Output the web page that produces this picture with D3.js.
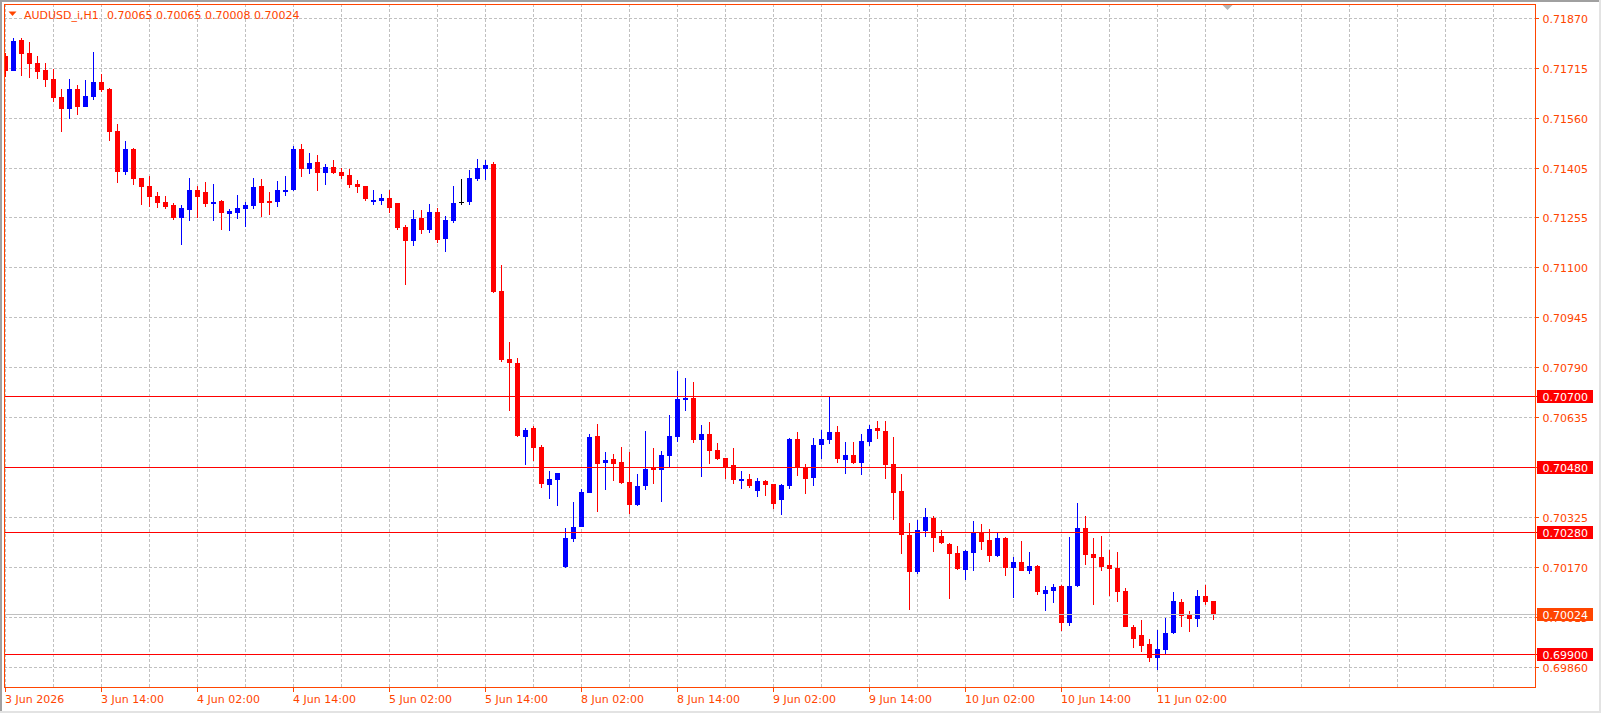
<!DOCTYPE html>
<html>
<head>
<meta charset="utf-8">
<script src="https://cdn.jsdelivr.net/npm/d3@7"></script>
<style>
  html, body { margin: 0; padding: 0; background: #FFFFFF; }
  svg { display: block; }
  text { font-family: "DejaVu Sans", sans-serif; font-size: 11px; }
</style>
</head>
<body>
<div id="chart"></div>
<script>
// AUDUSD_i H1 bars (oldest first)
var opens = [
    0.71753, 0.71708, 0.71803, 0.71763, 0.71732, 0.71710, 0.71682, 0.71626, 0.71590, 0.71651,
    0.71596, 0.71627, 0.71673, 0.71651, 0.71521, 0.71395, 0.71465, 0.71375, 0.71351, 0.71320,
    0.71301, 0.71292, 0.71250, 0.71277, 0.71338, 0.71332, 0.71296, 0.71304, 0.71265, 0.71268,
    0.71280, 0.71290, 0.71351, 0.71305, 0.71302, 0.71333, 0.71338, 0.71465, 0.71404, 0.71425,
    0.71392, 0.71410, 0.71394, 0.71385, 0.71357, 0.71351, 0.71302, 0.71305, 0.71314, 0.71298,
    0.71224, 0.71181, 0.71252, 0.71215, 0.71270, 0.71187, 0.71243, 0.71301, 0.71302, 0.71372,
    0.71404, 0.71419, 0.71025, 0.70815, 0.70803, 0.70573, 0.70601, 0.70542, 0.70425, 0.70440,
    0.70171, 0.70258, 0.70295, 0.70400, 0.70576, 0.70493, 0.70505, 0.70496, 0.70434, 0.70363,
    0.70422, 0.70477, 0.70471, 0.70515, 0.70573, 0.70688, 0.70694, 0.70564, 0.70583, 0.70533,
    0.70508, 0.70487, 0.70437, 0.70443, 0.70406, 0.70437, 0.70428, 0.70378, 0.70422, 0.70567,
    0.70480, 0.70446, 0.70549, 0.70564, 0.70589, 0.70502, 0.70518, 0.70493, 0.70558, 0.70601,
    0.70592, 0.70490, 0.70406, 0.70270, 0.70155, 0.70282, 0.70323, 0.70267, 0.70242, 0.70214,
    0.70162, 0.70214, 0.70279, 0.70254, 0.70205, 0.70261, 0.70168, 0.70186, 0.70158, 0.70174,
    0.70087, 0.70096, 0.70112, 0.69997, 0.70112, 0.70292, 0.70211, 0.70202, 0.70177, 0.70168,
    0.70096, 0.69985, 0.69960, 0.69932, 0.69889, 0.69914, 0.69966, 0.70062, 0.70025, 0.70010,
    0.70081, 0.70065
];
var highs = [
    0.71763, 0.71809, 0.71809, 0.71797, 0.71753, 0.71732, 0.71713, 0.71651, 0.71682, 0.71664,
    0.71679, 0.71766, 0.71698, 0.71654, 0.71543, 0.71490, 0.71468, 0.71376, 0.71382, 0.71332,
    0.71320, 0.71298, 0.71292, 0.71375, 0.71351, 0.71363, 0.71357, 0.71307, 0.71279, 0.71323,
    0.71301, 0.71375, 0.71372, 0.71332, 0.71366, 0.71382, 0.71475, 0.71481, 0.71453, 0.71447,
    0.71419, 0.71431, 0.71406, 0.71403, 0.71369, 0.71352, 0.71338, 0.71326, 0.71338, 0.71299,
    0.71230, 0.71276, 0.71276, 0.71295, 0.71283, 0.71258, 0.71351, 0.71372, 0.71400, 0.71434,
    0.71431, 0.71425, 0.71106, 0.70868, 0.70818, 0.70601, 0.70607, 0.70549, 0.70468, 0.70463,
    0.70292, 0.70372, 0.70412, 0.70583, 0.70614, 0.70527, 0.70521, 0.70542, 0.70527, 0.70459,
    0.70592, 0.70539, 0.70530, 0.70642, 0.70778, 0.70756, 0.70744, 0.70611, 0.70620, 0.70555,
    0.70509, 0.70539, 0.70468, 0.70459, 0.70446, 0.70440, 0.70429, 0.70428, 0.70570, 0.70589,
    0.70490, 0.70570, 0.70595, 0.70700, 0.70607, 0.70558, 0.70558, 0.70583, 0.70611, 0.70623,
    0.70623, 0.70573, 0.70459, 0.70307, 0.70316, 0.70354, 0.70329, 0.70285, 0.70245, 0.70236,
    0.70223, 0.70313, 0.70304, 0.70288, 0.70279, 0.70264, 0.70202, 0.70251, 0.70217, 0.70177,
    0.70112, 0.70118, 0.70115, 0.70264, 0.70369, 0.70329, 0.70261, 0.70267, 0.70223, 0.70217,
    0.70106, 0.69991, 0.70007, 0.69948, 0.69976, 0.70013, 0.70093, 0.70072, 0.70035, 0.70100,
    0.70115, 0.70065
];
var lows = [
    0.71689, 0.71707, 0.71691, 0.71686, 0.71683, 0.71658, 0.71611, 0.71519, 0.71559, 0.71572,
    0.71595, 0.71618, 0.71643, 0.71491, 0.71361, 0.71386, 0.71355, 0.71293, 0.71287, 0.71284,
    0.71280, 0.71246, 0.71169, 0.71243, 0.71253, 0.71287, 0.71243, 0.71215, 0.71212, 0.71249,
    0.71225, 0.71280, 0.71256, 0.71262, 0.71287, 0.71321, 0.71335, 0.71380, 0.71389, 0.71336,
    0.71355, 0.71389, 0.71373, 0.71345, 0.71330, 0.71305, 0.71293, 0.71293, 0.71268, 0.71214,
    0.71044, 0.71166, 0.71203, 0.71206, 0.71175, 0.71147, 0.71237, 0.71293, 0.71293, 0.71366,
    0.71369, 0.71018, 0.70806, 0.70654, 0.70573, 0.70487, 0.70499, 0.70415, 0.70381, 0.70360,
    0.70168, 0.70248, 0.70294, 0.70399, 0.70341, 0.70409, 0.70437, 0.70428, 0.70335, 0.70360,
    0.70409, 0.70428, 0.70372, 0.70480, 0.70558, 0.70654, 0.70555, 0.70450, 0.70490, 0.70502,
    0.70443, 0.70428, 0.70412, 0.70415, 0.70388, 0.70391, 0.70350, 0.70332, 0.70412, 0.70453,
    0.70397, 0.70422, 0.70505, 0.70552, 0.70493, 0.70459, 0.70490, 0.70456, 0.70545, 0.70567,
    0.70443, 0.70316, 0.70211, 0.70038, 0.70149, 0.70264, 0.70217, 0.70242, 0.70072, 0.70162,
    0.70131, 0.70158, 0.70223, 0.70186, 0.70202, 0.70143, 0.70075, 0.70157, 0.70149, 0.70084,
    0.70035, 0.70059, 0.69973, 0.69988, 0.70109, 0.70177, 0.70053, 0.70158, 0.70081, 0.70062,
    0.69984, 0.69920, 0.69908, 0.69877, 0.69852, 0.69898, 0.69963, 0.69985, 0.69969, 0.69985,
    0.70053, 0.70008
];
var closes = [
    0.71708, 0.71800, 0.71760, 0.71729, 0.71705, 0.71680, 0.71624, 0.71590, 0.71651, 0.71596,
    0.71629, 0.71673, 0.71649, 0.71519, 0.71395, 0.71465, 0.71373, 0.71349, 0.71318, 0.71299,
    0.71287, 0.71253, 0.71283, 0.71338, 0.71318, 0.71296, 0.71301, 0.71268, 0.71273, 0.71283,
    0.71292, 0.71348, 0.71299, 0.71299, 0.71338, 0.71338, 0.71465, 0.71404, 0.71422, 0.71392,
    0.71410, 0.71392, 0.71383, 0.71355, 0.71349, 0.71311, 0.71308, 0.71314, 0.71284, 0.71221,
    0.71181, 0.71249, 0.71215, 0.71270, 0.71184, 0.71245, 0.71298, 0.71301, 0.71375, 0.71406,
    0.71416, 0.71021, 0.70812, 0.70803, 0.70576, 0.70595, 0.70539, 0.70428, 0.70443, 0.70462,
    0.70261, 0.70295, 0.70403, 0.70573, 0.70490, 0.70502, 0.70490, 0.70431, 0.70363, 0.70422,
    0.70474, 0.70471, 0.70518, 0.70576, 0.70691, 0.70694, 0.70564, 0.70583, 0.70530, 0.70505,
    0.70480, 0.70440, 0.70443, 0.70422, 0.70437, 0.70425, 0.70366, 0.70425, 0.70567, 0.70477,
    0.70443, 0.70549, 0.70567, 0.70589, 0.70505, 0.70518, 0.70493, 0.70561, 0.70598, 0.70592,
    0.70487, 0.70400, 0.70270, 0.70155, 0.70285, 0.70326, 0.70261, 0.70245, 0.70211, 0.70165,
    0.70220, 0.70279, 0.70248, 0.70205, 0.70261, 0.70168, 0.70186, 0.70158, 0.70174, 0.70093,
    0.70100, 0.70109, 0.69997, 0.70112, 0.70292, 0.70208, 0.70199, 0.70171, 0.70165, 0.70093,
    0.69985, 0.69948, 0.69926, 0.69889, 0.69917, 0.69966, 0.70066, 0.70019, 0.70010, 0.70081,
    0.70062, 0.70024
];

// time axis: bar index of each label and its text
var timeTickBars = [0, 12, 24, 36, 48, 60, 72, 84, 96, 108, 120, 132, 144];
var timeTickLabels = [
    "3 Jun 2026", "3 Jun 14:00", "4 Jun 02:00", "4 Jun 14:00", "5 Jun 02:00",
    "5 Jun 14:00", "8 Jun 02:00", "8 Jun 14:00", "9 Jun 02:00", "9 Jun 14:00",
    "10 Jun 02:00", "10 Jun 14:00", "11 Jun 02:00"
];

// price axis labels
var priceTicks = [
    0.71870, 0.71715, 0.71560, 0.71405, 0.71255, 0.71100, 0.70945,
    0.70790, 0.70635, 0.70480, 0.70325, 0.70170, 0.70015, 0.69860
];

// horizontal lines drawn on the chart
var levelPrices = [0.70700, 0.70480, 0.70280, 0.69900];
var bidPrice = 0.70024;

var symbolName = "AUDUSD_i,H1";

var width = 1601,
    height = 713,
    frameLeft = 4,
    frameTop = 4,
    frameRight = 1535,
    frameBottom = 687,
    barStep = 8;

var orangeRed = "#FF4500",
    bullColor = "#0000FF",
    bearColor = "#FF0000",
    dojiColor = "#000000",
    gridColor = "#C0C0C0",
    levelColor = "#FF0000";

var svg = d3.select("#chart")
    .append("svg")
    .attr("width", width)
    .attr("height", height);

svg.append("rect")
    .attr("width", width)
    .attr("height", height)
    .style("fill", "#FFFFFF");

// window edges
svg.append("rect").attr("x", 0).attr("y", 0).attr("width", width).attr("height", 2).style("fill", "#A0A0A0");
svg.append("rect").attr("x", 0).attr("y", 0).attr("width", 2).attr("height", height).style("fill", "#A0A0A0");
svg.append("rect").attr("x", 0).attr("y", height - 2).attr("width", width).attr("height", 2).style("fill", "#E3E3E3");
svg.append("rect").attr("x", width - 2).attr("y", 0).attr("width", 2).attr("height", height).style("fill", "#E3E3E3");

var nBars = opens.length;

var x = d3.scaleLinear()
    .domain([0, nBars - 1])
    .range([frameLeft + 1, frameLeft + 1 + barStep * (nBars - 1)]);

var y = d3.scaleLinear()
    .domain([0.69860, 0.71870])
    .range([667.3, 18.3]);

function py(v) { return Math.round(y(v)); }

var defs = svg.append("defs");
defs.append("clipPath")
    .attr("id", "plotClip")
    .append("rect")
    .attr("x", frameLeft + 1)
    .attr("y", frameTop + 1)
    .attr("width", frameRight - frameLeft - 1)
    .attr("height", frameBottom - frameTop - 1);

var plot = svg.append("g").attr("clip-path", "url(#plotClip)");

// vertical grid, every 6 bars, carried on past the last bar
var gridBars = d3.range(0, Math.floor((frameRight - frameLeft) / barStep), 6);
plot.selectAll(".vgrid")
    .data(gridBars)
    .enter().append("line")
    .attr("x1", function (d) { return x(d) + 0.5; })
    .attr("x2", function (d) { return x(d) + 0.5; })
    .attr("y1", frameTop)
    .attr("y2", frameBottom)
    .style("stroke", gridColor)
    .style("stroke-width", 1)
    .style("stroke-dasharray", "3,2");

// horizontal grid
plot.selectAll(".hgrid")
    .data(priceTicks)
    .enter().append("line")
    .attr("x1", frameLeft)
    .attr("x2", frameRight)
    .attr("y1", function (d) { return py(d) + 0.5; })
    .attr("y2", function (d) { return py(d) + 0.5; })
    .style("stroke", gridColor)
    .style("stroke-width", 1)
    .style("stroke-dasharray", "3,2");

// bid line and level lines run out to the price labels
svg.append("line")
    .attr("x1", frameLeft)
    .attr("x2", 1537)
    .attr("y1", py(bidPrice) + 0.5)
    .attr("y2", py(bidPrice) + 0.5)
    .style("stroke", "#C0C0C0")
    .style("stroke-width", 1);

svg.selectAll(".level")
    .data(levelPrices)
    .enter().append("line")
    .attr("x1", frameLeft)
    .attr("x2", 1537)
    .attr("y1", function (d) { return py(d) + 0.5; })
    .attr("y2", function (d) { return py(d) + 0.5; })
    .style("stroke", levelColor)
    .style("stroke-width", 1);

// candles
var bars = d3.range(nBars);

function barColor(i) {
    if (opens[i] === closes[i]) return dojiColor;
    return closes[i] > opens[i] ? bullColor : bearColor;
}

plot.selectAll(".wick")
    .data(bars)
    .enter().append("rect")
    .attr("x", function (i) { return x(i); })
    .attr("y", function (i) { return py(highs[i]); })
    .attr("width", 1)
    .attr("height", function (i) { return Math.max(1, py(lows[i]) - py(highs[i])); })
    .style("shape-rendering", "crispEdges")
    .style("fill", barColor);

plot.selectAll(".body")
    .data(bars)
    .enter().append("rect")
    .attr("x", function (i) { return x(i) - 2; })
    .attr("y", function (i) { return py(Math.max(opens[i], closes[i])); })
    .attr("width", 5)
    .attr("height", function (i) {
        return Math.max(1, py(Math.min(opens[i], closes[i])) - py(Math.max(opens[i], closes[i])));
    })
    .style("shape-rendering", "crispEdges")
    .style("fill", barColor);

// frame
svg.append("rect")
    .attr("x", frameLeft + 0.5)
    .attr("y", frameTop + 0.5)
    .attr("width", frameRight - frameLeft)
    .attr("height", frameBottom - frameTop)
    .style("fill", "none")
    .style("stroke", orangeRed)
    .style("stroke-width", 1);

// chart shift marker
var shiftX = x(nBars - 1) + 14.5;
svg.append("path")
    .attr("d", "M" + (shiftX - 5) + "," + (frameTop + 1) + "L" + (shiftX + 5) + "," + (frameTop + 1) + "L" + shiftX + "," + (frameTop + 6) + "Z")
    .style("fill", "#B4B4B4");

// price axis
svg.selectAll(".ytick")
    .data(priceTicks)
    .enter().append("line")
    .attr("x1", frameRight)
    .attr("x2", frameRight + 4)
    .attr("y1", function (d) { return py(d) + 0.5; })
    .attr("y2", function (d) { return py(d) + 0.5; })
    .style("stroke", orangeRed);

svg.selectAll(".ylabel")
    .data(priceTicks)
    .enter().append("text")
    .attr("x", 1542.5)
    .attr("y", function (d) { return py(d) + 4.5; })
    .style("fill", orangeRed)
    .text(function (d) { return d.toFixed(5); });

// boxes for the level lines and the bid
function priceBox(p, fill) {
    svg.append("rect")
        .attr("x", 1537)
        .attr("y", py(p) - 6)
        .attr("width", 56)
        .attr("height", 13)
        .style("fill", fill);
    svg.append("text")
        .attr("x", 1542.5)
        .attr("y", py(p) + 4.5)
        .style("fill", "#FFFFFF")
        .text(p.toFixed(5));
}
levelPrices.forEach(function (p) { priceBox(p, levelColor); });
priceBox(bidPrice, orangeRed);

// time axis
svg.selectAll(".xtick")
    .data(timeTickBars)
    .enter().append("line")
    .attr("x1", function (d) { return x(d) + 0.5; })
    .attr("x2", function (d) { return x(d) + 0.5; })
    .attr("y1", frameBottom)
    .attr("y2", frameBottom + 5)
    .style("stroke", orangeRed);

svg.selectAll(".xlabel")
    .data(timeTickBars)
    .enter().append("text")
    .attr("x", function (d) { return x(d); })
    .attr("y", 702.5)
    .style("fill", orangeRed)
    .text(function (d, i) { return timeTickLabels[i]; });

// title: symbol and last bar OHLC
var last = nBars - 1;
svg.append("path")
    .attr("d", "M8.5,11.5L16.5,11.5L12.5,16Z")
    .style("fill", orangeRed);

svg.append("text")
    .attr("x", 24)
    .attr("y", 18.5)
    .style("fill", orangeRed)
    .text(symbolName);

svg.append("text")
    .attr("x", 107)
    .attr("y", 18.5)
    .style("fill", orangeRed)
    .text([opens[last], highs[last], lows[last], closes[last]].map(function (v) { return v.toFixed(5); }).join(" "));
</script>
</body>
</html>
